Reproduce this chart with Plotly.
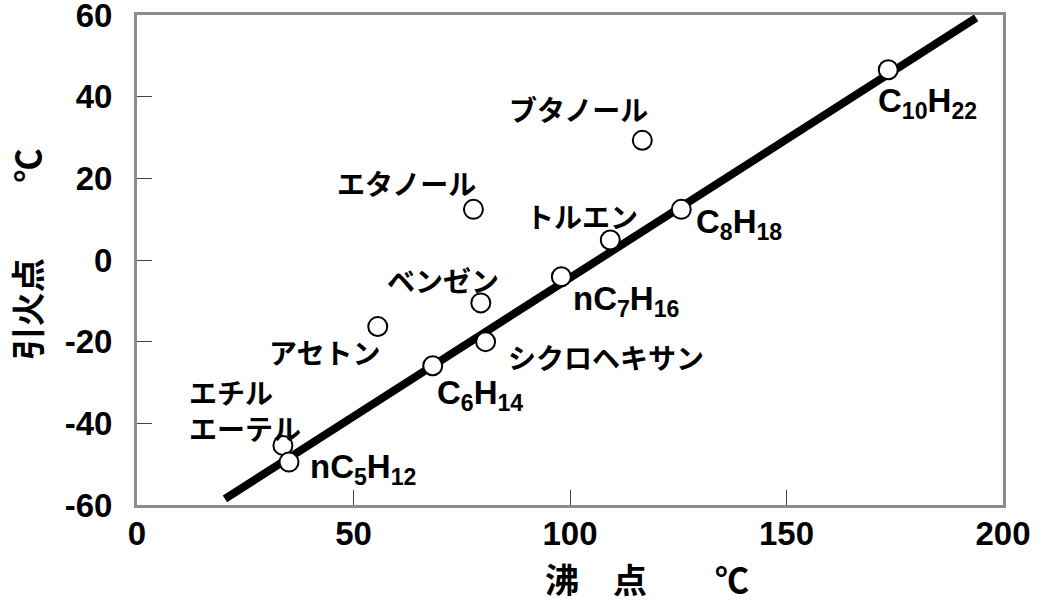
import plotly.graph_objects as go

# ---- data ----
labels = ["エチル<br>エーテル", "nC<sub>5</sub>H<sub>12</sub>", "アセトン", "C<sub>6</sub>H<sub>14</sub>",
          "エタノール", "ベンゼン", "シクロヘキサン", "nC<sub>7</sub>H<sub>16</sub>",
          "トルエン", "ブタノール", "C<sub>8</sub>H<sub>18</sub>", "C<sub>10</sub>H<sub>22</sub>"]
boiling = [33.7, 35.1, 55.6, 68.3, 77.7, 79.4, 80.5, 98.0, 109.3, 116.7, 125.7, 173.5]
flash = [-45.4, -49.5, -16.3, -25.9, 12.4, -10.5, -20.0, -4.1, 4.9, 29.3, 12.4, 46.6]

fit_x = [20.3, 193.8]
fit_y = [-58.5, 59.3]

x_ticks = [0, 50, 100, 150, 200]
x_ticktext = ["0", "50", "100", "150", "200"]
y_ticks = [-60, -40, -20, 0, 20, 40, 60]
y_ticktext = ["-60", "-40", "-20", "0", "20", "40", "60"]

# ---- label placement (style: pixel offsets from each point) ----
lab_style = [
    dict(xanchor="left", xshift=-96, yshift=35, align="left"),
    dict(xanchor="left", xshift=19, yshift=-7),
    dict(xanchor="center", xshift=-53, yshift=-25),
    dict(xanchor="left", xshift=2, yshift=-29),
    dict(xanchor="center", xshift=-67, yshift=26),
    dict(xanchor="center", xshift=-38, yshift=23),
    dict(xanchor="left", xshift=20, yshift=-15),
    dict(xanchor="left", xshift=10, yshift=-24),
    dict(xanchor="center", xshift=-28, yshift=24),
    dict(xanchor="center", xshift=-64, yshift=31),
    dict(xanchor="left", xshift=13, yshift=-15),
    dict(xanchor="left", xshift=-12, yshift=-33),
]

JP = "Noto Sans CJK JP"
LAT = "Liberation Sans"

fig = go.Figure()
fig.add_trace(go.Scatter(x=fit_x, y=fit_y, mode="lines",
                         line=dict(color="black", width=8), hoverinfo="skip"))
fig.add_trace(go.Scatter(x=boiling, y=flash, mode="markers",
                         marker=dict(size=19, color="white",
                                     line=dict(color="black", width=2))))

for t, bx, fy, st in zip(labels, boiling, flash, lab_style):
    is_formula = "<sub>" in t
    fig.add_annotation(x=bx, y=fy, xref="x", yref="y", text=t, showarrow=False,
                       yanchor="middle",
                       font=dict(family=LAT if is_formula else JP,
                                 size=33 if is_formula else 28,
                                 color="black", weight="bold"),
                       **st)

# axis titles
fig.add_annotation(x=0.469, y=-0.149, xref="paper", yref="paper",
                   text="沸　点　　℃", showarrow=False, xanchor="left", yanchor="middle",
                   font=dict(family=JP, size=34, color="black", weight="bold"))
fig.add_annotation(x=-0.128, y=0.512, xref="paper", yref="paper",
                   text="引火点　　 ℃", showarrow=False, textangle=-90,
                   xanchor="center", yanchor="middle",
                   font=dict(family=JP, size=34, color="black", weight="bold"))

axis_common = dict(showgrid=False, zeroline=False, showline=True, linecolor="#8c8c8c",
                   linewidth=3, mirror=True, ticks="inside", ticklen=15,
                   tickcolor="#444444", tickwidth=1, automargin=False,
                   ticklabeloverflow="allow",
                   tickfont=dict(family=LAT, size=33, color="black", weight="bold"))

fig.update_xaxes(range=[0, 200], tickvals=x_ticks, ticktext=x_ticktext,
                 ticklabelstandoff=-3, **axis_common)
fig.update_yaxes(range=[-60, 60], tickvals=y_ticks, ticktext=y_ticktext,
                 ticklabelstandoff=15, **axis_common)

fig.update_layout(width=1042, height=601, showlegend=False,
                  margin=dict(l=137, r=39, t=15, b=96, autoexpand=False),
                  plot_bgcolor="white", paper_bgcolor="white")

# remove the page's default 8px body margin so the figure fills the window
fig.write_html("out.html", config={"displayModeBar": False},
               post_script="document.body.style.margin='0';")
